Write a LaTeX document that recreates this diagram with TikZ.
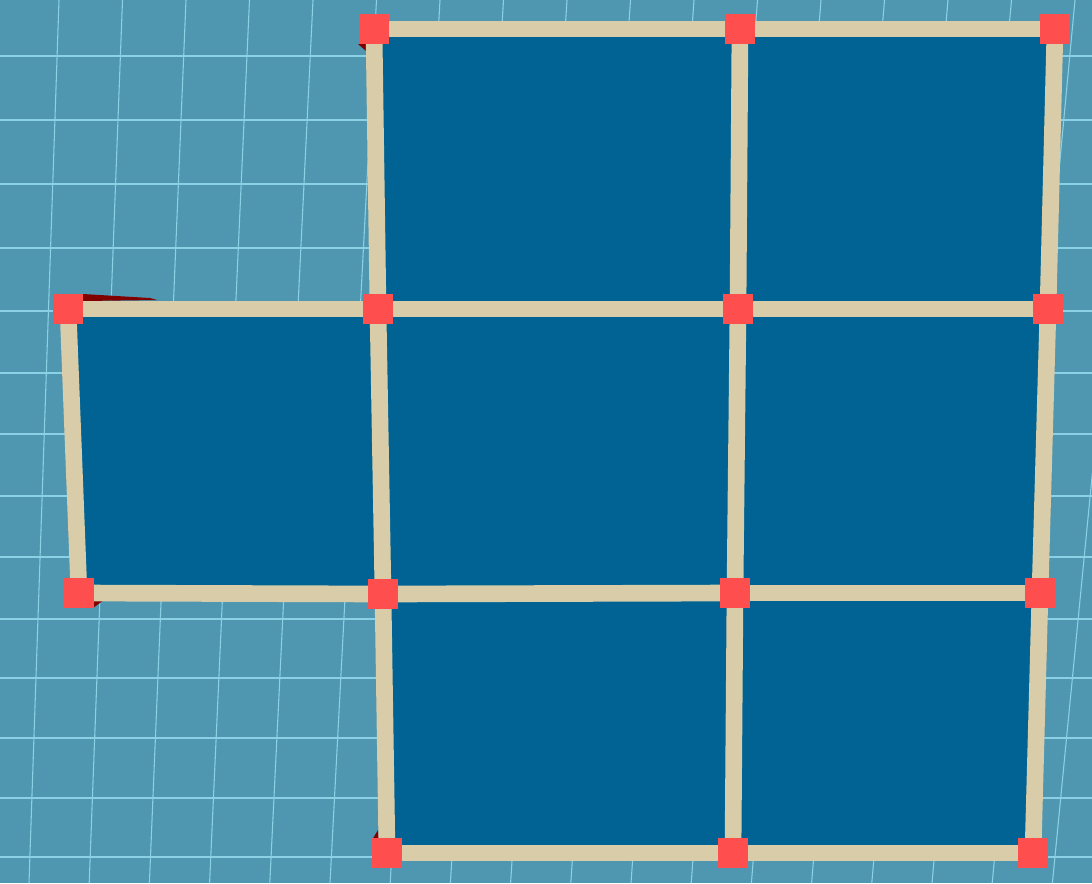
\documentclass[tikz,border=0pt]{standalone}
\usepackage{xcolor}
\usepackage{tikz}
\usetikzlibrary{calc}

\definecolor{boardbg}{RGB}{79,151,177}
\definecolor{gridln}{RGB}{140,208,230}
\definecolor{facebl}{RGB}{0,99,148}
\definecolor{stickc}{RGB}{217,204,168}
\definecolor{jointc}{RGB}{255,78,78}
\definecolor{shadowc}{RGB}{128,0,0}

\begin{document}
\begin{tikzpicture}[
  x=0.75pt, y=-0.75pt,
  gridline/.style={draw=gridln, line width=0.8pt},
  face/.style={fill=facebl},
  stick/.style={draw=stickc, line width=12.5pt},
  joint/.style={rectangle, fill=jointc, minimum size=22.5pt, inner sep=0pt},
  shadow/.style={fill=shadowc},
]
% background
\fill[boardbg] (0,0) rectangle (1092,883);
\useasboundingbox (0,0) rectangle (1092,883);

% grid behind the board
\foreach \k in {-1,...,17}
  \draw[gridline] ({59+63.5*\k},0) -- ({29+60.2*\k},883);
\foreach \y in {56,120,184,248,311,373,434,496,557,619,678,738,798,857}
  \draw[gridline] (0,\y) -- (1092,\y);

% corner points
\coordinate (n01) at (374,29);
\coordinate (n02) at (740,29);
\coordinate (n03) at (1055,29);
\coordinate (n10) at (68,309);
\coordinate (n11) at (378,309);
\coordinate (n12) at (738,309);
\coordinate (n13) at (1048,309);
\coordinate (n20) at (79,593);
\coordinate (n21) at (383,594);
\coordinate (n22) at (735,593);
\coordinate (n23) at (1040,593);
\coordinate (n31) at (387,853);
\coordinate (n32) at (733,853);
\coordinate (n33) at (1033,853);

% squares
\fill[face] (n01) -- (n02) -- (n12) -- (n11) -- cycle;
\fill[face] (n02) -- (n03) -- (n13) -- (n12) -- cycle;
\fill[face] (n10) -- (n11) -- (n21) -- (n20) -- cycle;
\fill[face] (n11) -- (n12) -- (n22) -- (n21) -- cycle;
\fill[face] (n12) -- (n13) -- (n23) -- (n22) -- cycle;
\fill[face] (n21) -- (n22) -- (n32) -- (n31) -- cycle;
\fill[face] (n22) -- (n23) -- (n33) -- (n32) -- cycle;

% small shadows
\fill[shadow] ($(n10)+(15,-15)$) -- ($(n10)+(82,-11)$) -- ($(n10)+(89,-9)$) -- ($(n10)+(15,-8)$) -- cycle;
\fill[shadow] ($(n20)+(14,8)$) -- ($(n20)+(25,7)$) -- ($(n20)+(14,15)$) -- cycle;
\fill[shadow] ($(n31)+(-15,-13)$) -- ($(n31)+(-9,-23)$) -- ($(n31)+(-8,-13)$) -- cycle;
\fill[shadow] ($(n01)+(-16,15)$) -- ($(n01)+(-8,15)$) -- ($(n01)+(-8,22)$) -- cycle;

% sticks
\draw[stick] (n01) -- (n02);
\draw[stick] (n02) -- (n03);
\draw[stick] (n10) -- (n11);
\draw[stick] (n11) -- (n12);
\draw[stick] (n12) -- (n13);
\draw[stick] (n20) -- (n21);
\draw[stick] (n21) -- (n22);
\draw[stick] (n22) -- (n23);
\draw[stick] (n31) -- (n32);
\draw[stick] (n32) -- (n33);
\draw[stick] (n01) -- (n11);
\draw[stick] (n11) -- (n21);
\draw[stick] (n21) -- (n31);
\draw[stick] (n02) -- (n12);
\draw[stick] (n12) -- (n22);
\draw[stick] (n22) -- (n32);
\draw[stick] (n03) -- (n13);
\draw[stick] (n13) -- (n23);
\draw[stick] (n23) -- (n33);
\draw[stick] (n10) -- (n20);

% joints
\foreach \p in {n01,n02,n03,n10,n11,n12,n13,n20,n21,n22,n23,n31,n32,n33}
  \node[joint] (j\p) at (\p) {};
\end{tikzpicture}
\end{document}
